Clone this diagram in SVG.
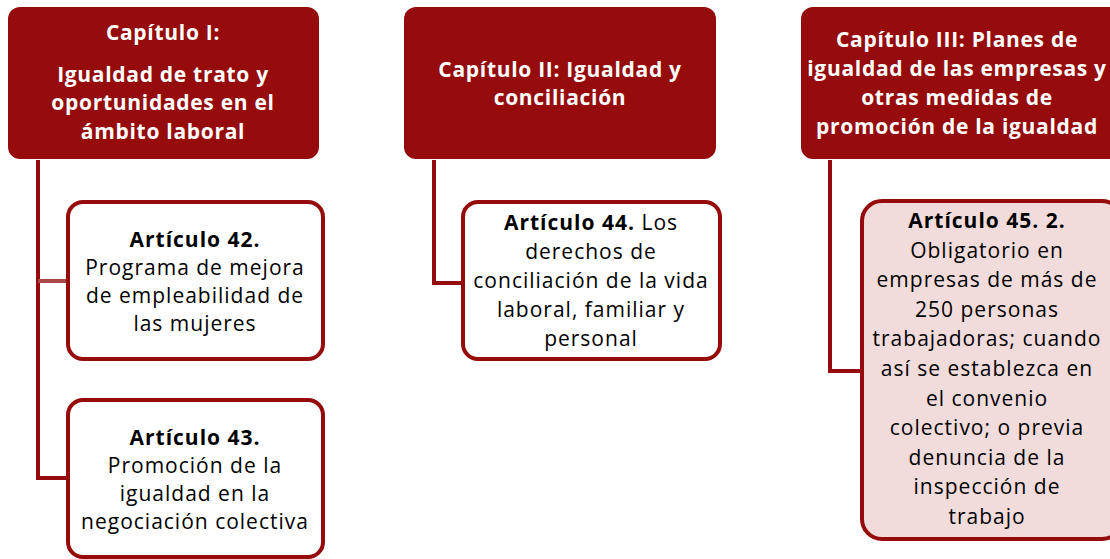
<svg xmlns="http://www.w3.org/2000/svg" width="1110" height="559" viewBox="0 0 1110 559">
<style>
.hdr{fill:#960C0C;}
.box{fill:#FFFFFF;stroke:#960C0C;stroke-width:4;}
.box2{fill:#F2DCDB;stroke:#960C0C;stroke-width:4;}
.ht{font-family:"Open Sans",Lato,sans-serif;font-weight:bold;font-size:21px;letter-spacing:0.7px;fill:#FFFFFF;text-anchor:middle;}
.bt{font-family:"Open Sans",Lato,sans-serif;font-size:21px;letter-spacing:1px;fill:#000000;text-anchor:middle;}
.b{font-weight:bold;}
.cn{fill:none;stroke:#960C0C;stroke-width:4;}
</style>
<rect width="1110" height="559" fill="#FFFFFF"/>
<g id="connectors">
<path class="cn" d="M38,160 V478 H68"/>
<path d="M38,281 H68" fill="none" stroke="#A84848" stroke-width="4"/>
<path class="cn" d="M434,160 V283 H463"/>
<path class="cn" d="M830,160 V371 H862"/>
</g>
<g id="cap1">
<rect class="hdr" x="8" y="7" width="311" height="152" rx="12"/>
<text class="ht" x="163" y="40">Capítulo I:</text>
<text class="ht" x="163" y="82">Igualdad de trato y</text>
<text class="ht" x="163" y="110">oportunidades en el</text>
<text class="ht" x="163" y="139">ámbito laboral</text>
</g>
<g id="cap2">
<rect class="hdr" x="404" y="7" width="312" height="152" rx="12"/>
<text class="ht" x="560" y="77">Capítulo II: Igualdad y</text>
<text class="ht" x="560" y="105">conciliación</text>
</g>
<g id="cap3">
<rect class="hdr" x="801" y="7" width="320" height="152" rx="12"/>
<text class="ht" x="957" y="47">Capítulo III: Planes de</text>
<text class="ht" x="957" y="76">igualdad de las empresas y</text>
<text class="ht" x="957" y="105">otras medidas de</text>
<text class="ht" x="957" y="134">promoción de la igualdad</text>
</g>
<g id="art42">
<rect class="box" x="68" y="202" width="255" height="157" rx="15"/>
<text class="bt" x="195" y="247"><tspan class="b">Artículo 42.</tspan></text>
<text class="bt" x="195" y="275">Programa de mejora</text>
<text class="bt" x="195" y="303">de empleabilidad de</text>
<text class="bt" x="195" y="331">las mujeres</text>
</g>
<g id="art43">
<rect class="box" x="68" y="400" width="255" height="157" rx="15"/>
<text class="bt" x="195" y="445"><tspan class="b">Artículo 43.</tspan></text>
<text class="bt" x="195" y="473">Promoción de la</text>
<text class="bt" x="195" y="501">igualdad en la</text>
<text class="bt" x="195" y="529">negociación colectiva</text>
</g>
<g id="art44">
<rect class="box" x="463" y="202" width="257" height="157" rx="15"/>
<text class="bt" x="591" y="230"><tspan class="b">Artículo 44.</tspan> Los</text>
<text class="bt" x="591" y="259">derechos de</text>
<text class="bt" x="591" y="288">conciliación de la vida</text>
<text class="bt" x="591" y="317">laboral, familiar y</text>
<text class="bt" x="591" y="346">personal</text>
</g>
<g id="art45">
<rect class="box2" x="862" y="201" width="260" height="338" rx="20"/>
<text class="bt" x="987" y="228"><tspan class="b">Artículo 45. 2.</tspan></text>
<text class="bt" x="987" y="257.6">Obligatorio en</text>
<text class="bt" x="987" y="287.2">empresas de más de</text>
<text class="bt" x="987" y="316.8">250 personas</text>
<text class="bt" x="987" y="346.4">trabajadoras; cuando</text>
<text class="bt" x="987" y="376">así se establezca en</text>
<text class="bt" x="987" y="405.6">el convenio</text>
<text class="bt" x="987" y="435.2">colectivo; o previa</text>
<text class="bt" x="987" y="464.8">denuncia de la</text>
<text class="bt" x="987" y="494.4">inspección de</text>
<text class="bt" x="987" y="524">trabajo</text>
</g>
</svg>
